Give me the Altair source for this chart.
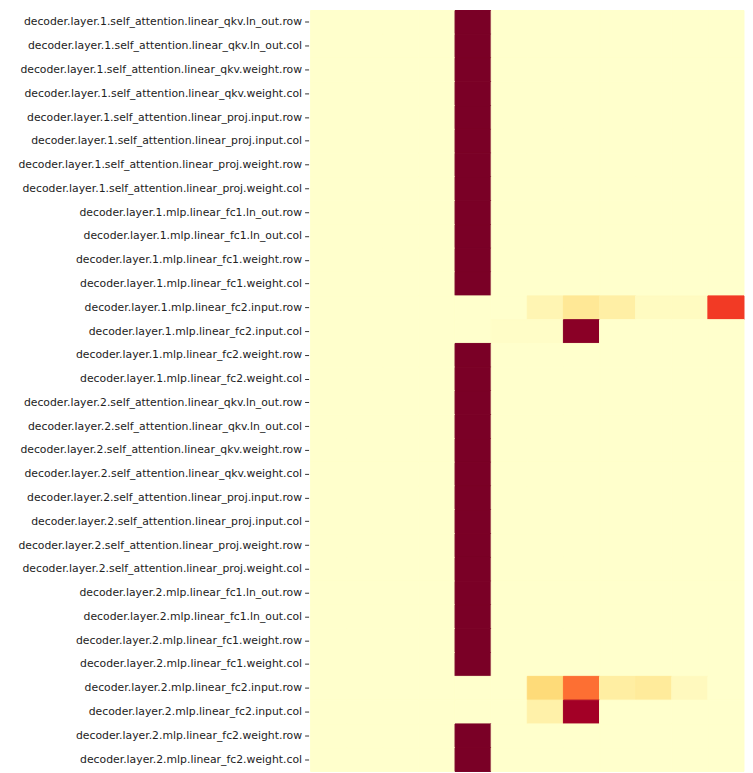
import altair as alt
import pandas as pd

rows = [
    "decoder.layer.1.self_attention.linear_qkv.ln_out.row",
    "decoder.layer.1.self_attention.linear_qkv.ln_out.col",
    "decoder.layer.1.self_attention.linear_qkv.weight.row",
    "decoder.layer.1.self_attention.linear_qkv.weight.col",
    "decoder.layer.1.self_attention.linear_proj.input.row",
    "decoder.layer.1.self_attention.linear_proj.input.col",
    "decoder.layer.1.self_attention.linear_proj.weight.row",
    "decoder.layer.1.self_attention.linear_proj.weight.col",
    "decoder.layer.1.mlp.linear_fc1.ln_out.row",
    "decoder.layer.1.mlp.linear_fc1.ln_out.col",
    "decoder.layer.1.mlp.linear_fc1.weight.row",
    "decoder.layer.1.mlp.linear_fc1.weight.col",
    "decoder.layer.1.mlp.linear_fc2.input.row",
    "decoder.layer.1.mlp.linear_fc2.input.col",
    "decoder.layer.1.mlp.linear_fc2.weight.row",
    "decoder.layer.1.mlp.linear_fc2.weight.col",
    "decoder.layer.2.self_attention.linear_qkv.ln_out.row",
    "decoder.layer.2.self_attention.linear_qkv.ln_out.col",
    "decoder.layer.2.self_attention.linear_qkv.weight.row",
    "decoder.layer.2.self_attention.linear_qkv.weight.col",
    "decoder.layer.2.self_attention.linear_proj.input.row",
    "decoder.layer.2.self_attention.linear_proj.input.col",
    "decoder.layer.2.self_attention.linear_proj.weight.row",
    "decoder.layer.2.self_attention.linear_proj.weight.col",
    "decoder.layer.2.mlp.linear_fc1.ln_out.row",
    "decoder.layer.2.mlp.linear_fc1.ln_out.col",
    "decoder.layer.2.mlp.linear_fc1.weight.row",
    "decoder.layer.2.mlp.linear_fc1.weight.col",
    "decoder.layer.2.mlp.linear_fc2.input.row",
    "decoder.layer.2.mlp.linear_fc2.input.col",
    "decoder.layer.2.mlp.linear_fc2.weight.row",
    "decoder.layer.2.mlp.linear_fc2.weight.col",
]

n_cols = 12
# rows whose values are spread across bins (the rest put all mass in bin 4)
spread_rows = {
    "decoder.layer.1.mlp.linear_fc2.input.row":
        [0, 0, 0, 0, 0, 0, 0.07, 0.156, 0.11, 0.03, 0.03, 0.673],
    "decoder.layer.1.mlp.linear_fc2.input.col":
        [0, 0, 0, 0, 0, 0.015, 0.015, 0.97, 0, 0, 0, 0],
    "decoder.layer.2.mlp.linear_fc2.input.row":
        [0, 0, 0, 0, 0, 0, 0.24, 0.56, 0.12, 0.14, 0.04, 0],
    "decoder.layer.2.mlp.linear_fc2.input.col":
        [0, 0, 0, 0, 0, 0, 0.1, 0.924, 0, 0, 0, 0],
}
peak_values = [0, 0, 0, 0, 1.0, 0, 0, 0, 0, 0, 0, 0]

records = []
for r in rows:
    vals = spread_rows.get(r, peak_values)
    for c in range(n_cols):
        records.append({"row": r, "col": c, "value": vals[c]})
df = pd.DataFrame(records)

stops = [0, 0.125, 0.25, 0.375, 0.5, 0.625, 0.75, 0.875, 1.0]
ylorrd = ["#ffffcc", "#ffeda0", "#fed976", "#feb24c", "#fd8d3c",
          "#fc4e2a", "#e31a1c", "#bd0026", "#7a0026"]
cscale = alt.Scale(domain=stops, range=ylorrd, interpolate="rgb")

chart = alt.Chart(df).mark_rect(strokeWidth=1).encode(
    x=alt.X("col:O", axis=None),
    y=alt.Y("row:N", sort=rows, title=None,
            axis=alt.Axis(labelFont="DejaVu Sans", labelFontSize=10.85,
                          labelColor="#222222", tickSize=4, tickColor="#333333",
                          tickWidth=1, domain=False, labelPadding=3, offset=2,
                          labelLimit=0)),
    color=alt.Color("value:Q", legend=None, scale=cscale),
    stroke=alt.Stroke("value:Q", legend=None, scale=cscale),
).properties(
    width=434, height=762,
    padding={"left": 9, "top": 1, "right": 0, "bottom": 0},
).configure_view(stroke=None).configure_scale(bandPaddingInner=0)

chart.save("out.html", embed_options={"renderer": "svg", "actions": False})
